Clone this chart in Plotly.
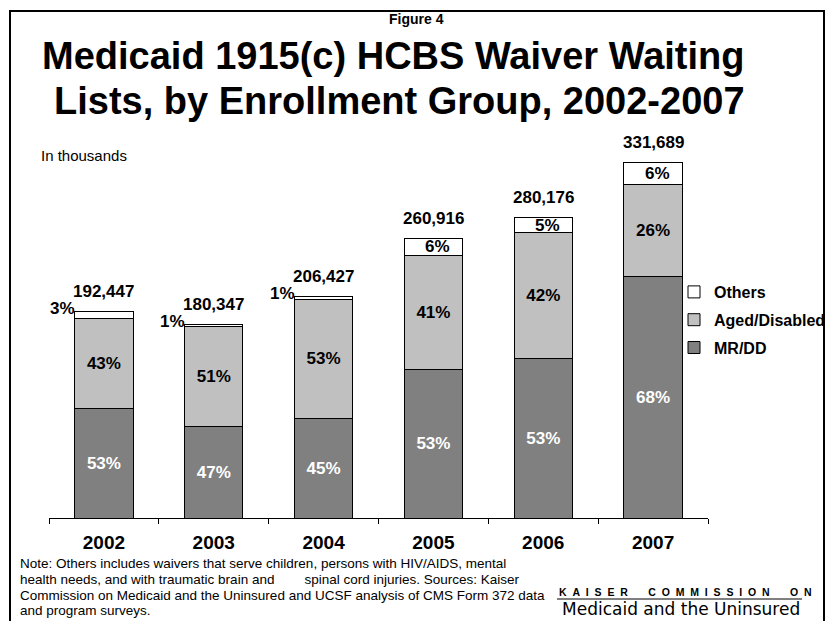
import plotly.graph_objects as go

# ---- data (thousands) ----
years = ["2002", "2003", "2004", "2005", "2006", "2007"]
total_labels = ["192,447", "180,347", "206,427", "260,916", "280,176", "331,689"]
totals = [192.447, 180.347, 206.427, 260.916, 280.176, 331.689]
mrdd = [102.0, 85.0, 92.9, 138.3, 148.5, 225.5]
aged = [84.6, 93.5, 111.4, 107.0, 117.7, 86.2]
others = [5.8, 1.8, 2.1, 15.6, 14.0, 19.9]
mrdd_pct = ["53%", "47%", "45%", "53%", "53%", "68%"]
aged_pct = ["43%", "51%", "53%", "41%", "42%", "26%"]
others_pct = ["3%", "1%", "1%", "6%", "5%", "6%"]
note_lines = [
    "Note: Others includes waivers that serve children, persons with HIV/AIDS, mental",
    "health needs, and with traumatic brain and\u00a0\u00a0\u00a0\u00a0\u00a0\u00a0\u00a0 spinal cord injuries. Sources: Kaiser",
    "Commission on Medicaid and the Uninsured and UCSF analysis of CMS Form 372 data",
    "and program surveys.",
]

FONT = "Liberation Sans, Arial, sans-serif"
W, H = 828, 621
ML, MR, MT, MB = 49, 120, 143, 103
PW, PH = W - ML - MR, H - MT - MB


def px(x):
    return (x - ML) / PW


def py(y):
    return (H - MB - y) / PH


fig = go.Figure()
fig.add_bar(x=years, y=mrdd, name="MR/DD", legendgroup="a", legendrank=3,
            marker=dict(color="#808080", line=dict(color="black", width=1)),
            text=mrdd_pct, textposition="inside", insidetextanchor="middle",
            textangle=0, textfont=dict(family=FONT, size=17, color="white", weight="bold"))
fig.add_bar(x=years, y=aged, name="Aged/Disabled", legendgroup="b", legendrank=2,
            marker=dict(color="#C0C0C0", line=dict(color="black", width=1)),
            text=aged_pct, textposition="inside", insidetextanchor="middle",
            textangle=0, textfont=dict(family=FONT, size=17, color="black", weight="bold"))
fig.add_bar(x=years, y=others, name="Others", legendgroup="c", legendrank=1,
            marker=dict(color="white", line=dict(color="black", width=1)),
            textposition="none")

ann = []
# totals (x given as category index)
for i, (t, lab) in enumerate(zip(totals, total_labels)):
    ann.append(dict(x=i, y=t, xref="x", yref="y", text="<b>%s</b>" % lab, showarrow=False,
                    yanchor="middle", yshift=20, font=dict(family=FONT, size=17, color="black")))
# others percentages
for i, (t, o, lab) in enumerate(zip(totals, others, others_pct)):
    if o >= 10:
        ann.append(dict(x=i, y=t - o / 2, xref="x", yref="y", text="<b>%s</b>" % lab,
                        showarrow=False, xshift=4, yanchor="middle",
                        font=dict(family=FONT, size=17, color="black")))
    else:
        ann.append(dict(x=i, y=t, xref="x", yref="y", text="<b>%s</b>" % lab,
                        showarrow=False, xanchor="right", xshift=-27, yshift=3, yanchor="middle",
                        font=dict(family=FONT, size=17, color="black")))

# titles and texts
ann.append(dict(x=px(416), y=py(19), xref="paper", yref="paper", text="<b>Figure 4</b>",
                showarrow=False, xanchor="center", yanchor="middle",
                font=dict(family=FONT, size=14, color="black")))
ann.append(dict(x=px(393), y=py(56), xref="paper", yref="paper",
                text="<b>Medicaid 1915(c) HCBS Waiver Waiting</b>",
                showarrow=False, xanchor="center", yanchor="middle",
                font=dict(family=FONT, size=38, color="black")))
ann.append(dict(x=px(399), y=py(101), xref="paper", yref="paper",
                text="<b>Lists, by Enrollment Group, 2002-2007</b>",
                showarrow=False, xanchor="center", yanchor="middle",
                font=dict(family=FONT, size=38, color="black")))
ann.append(dict(x=px(39), y=py(156), xref="paper", yref="paper", text="In thousands",
                showarrow=False, xanchor="left", yanchor="middle",
                font=dict(family=FONT, size=15, color="black")))
for k, (line, yc) in enumerate(zip(note_lines, [563, 579, 595, 610])):
    ann.append(dict(x=px(18), y=py(yc), xref="paper", yref="paper", text=line, align="left",
                    showarrow=False, xanchor="left", yanchor="middle",
                    font=dict(family=FONT, size=13.5, color="black")))
sp2 = "\u00a0\u00a0"
kaiser = ("<b>" + sp2.join("KAISER") + "\u00a0" * 7 + sp2.join("COMMISSION") + "\u00a0" * 7
          + sp2.join("ON") + "</b>")
ann.append(dict(x=px(557), y=py(592), xref="paper", yref="paper", text=kaiser,
                showarrow=False, xanchor="left", yanchor="middle",
                font=dict(family=FONT, size=10.5, color="black")))
ann.append(dict(x=px(681), y=py(609), xref="paper", yref="paper", text="Medicaid and the Uninsured",
                showarrow=False, xanchor="center", yanchor="middle",
                font=dict(family="DejaVu Sans, Verdana, sans-serif", size=17, color="black")))

shapes = [
    dict(type="rect", xref="paper", yref="paper", x0=px(10), x1=px(824), y0=py(640), y1=py(11),
         line=dict(color="black", width=2), fillcolor="rgba(0,0,0,0)", layer="above"),
    dict(type="line", xref="paper", yref="paper", x0=px(557), x1=px(802), y0=py(599), y1=py(599),
         line=dict(color="black", width=1)),
]

fig.update_layout(
    width=W, height=H, autosize=False,
    margin=dict(l=ML, r=MR, t=MT, b=MB, autoexpand=False),
    paper_bgcolor="white", plot_bgcolor="white",
    barmode="stack", bargap=0.47,
    showlegend=True,
    legend=dict(x=px(674), y=py(275), xanchor="left", yanchor="top", traceorder="grouped",
                tracegroupgap=4, bgcolor="rgba(0,0,0,0)",
                font=dict(family=FONT, size=16, color="black", weight="bold")),
    xaxis=dict(type="category", range=[-0.5, 5.5], autorange=False, showline=True,
               linecolor="black", linewidth=1,
               ticks="outside", tickson="boundaries", ticklen=5, tickcolor="black",
               showgrid=False, zeroline=False, ticklabelstandoff=7, fixedrange=True,
               tickfont=dict(family=FONT, size=19, color="black", weight="bold")),
    yaxis=dict(visible=False, range=[0, 350], autorange=False, showgrid=False, zeroline=False),
    annotations=ann, shapes=shapes,
    uniformtext=dict(minsize=17, mode="show"),
)

fig.write_html("out.html", config={"displayModeBar": False},
               post_script="document.body.style.margin='0';document.body.style.overflow='hidden';")
